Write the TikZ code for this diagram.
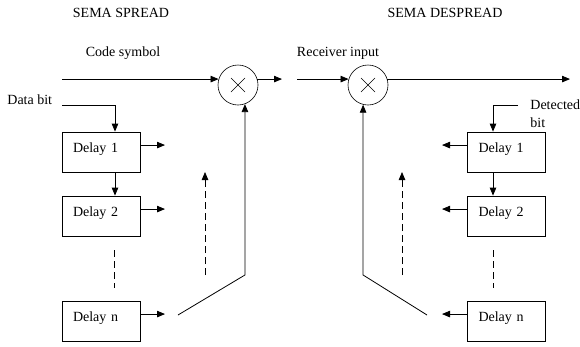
\documentclass[tikz,border=0pt]{standalone}
\usepackage{fontspec}
\setmainfont{Liberation Serif}
\usetikzlibrary{arrows.meta}
\begin{document}
\begin{tikzpicture}[x=1pt,y=-1pt,
  font=\fontsize{14}{16}\selectfont,
  line width=0.8pt,
  arr/.style={-{Triangle[length=8pt,width=6.5pt]}},
  dsh/.style={dash pattern=on 7pt off 4pt},
  txt/.style={inner sep=2pt},
  delaybox/.style={draw, minimum width=78pt, minimum height=40pt, text width=56pt,
    inner xsep=11pt, inner ysep=2pt, align=left, text height=10pt, text depth=10pt},
  mult/.style={draw, circle, minimum size=40pt, inner sep=0pt, line width=0.6pt,
    path picture={\draw[line width=0.5pt] (path picture bounding box.center) +(-7,-7) -- +(7,7)
      (path picture bounding box.center) +(-7,7) -- +(7,-7);}}
]
\useasboundingbox (0,0) rectangle (580,346);

% titles and labels
\node[txt] (t1) at (121,13) {SEMA SPREAD};
\node[txt] (t2) at (445,13) {SEMA DESPREAD};
\node[txt] (cs) at (123,53) {Code symbol};
\node[txt] (ri) at (338,53) {Receiver input};
\node[txt,anchor=west] (db) at (5,100) {Data bit};
\node[txt,anchor=west,align=left,font=\fontsize{14}{18}\selectfont] (det) at (528,114) {Detected\\bit};

% multipliers
\node[mult] (m1) at (238,85) {};
\node[mult] (m2) at (368,85) {};

% delay boxes
\node[delaybox] (l1) at (101,152) {Delay 1};
\node[delaybox] (l2) at (101,216) {Delay 2};
\node[delaybox] (ln) at (101,321) {Delay n};
\node[delaybox] (r1) at (506.5,152) {Delay 1};
\node[delaybox] (r2) at (506.5,216) {Delay 2};
\node[delaybox] (rn) at (506.5,321) {Delay n};

% helper coordinates
\coordinate (a0) at (62,79);
\coordinate (a1) at (282,79);
\coordinate (b0) at (297,79);
\coordinate (b1) at (570,79);
\coordinate (d0) at (62,105);
\coordinate (d1) at (115,105);
\coordinate (h0) at (518,105);
\coordinate (h1) at (493,105);
\coordinate (lo) at (165,0);
\coordinate (ro) at (442,0);
\coordinate (f0) at (178,315);
\coordinate (g0) at (427,315);
\coordinate (fy) at (0,275);
\coordinate (ld0) at (114,250);
\coordinate (ld1) at (114,288);
\coordinate (rd0) at (493,250);
\coordinate (rd1) at (493,288);
\coordinate (lu0) at (205,275);
\coordinate (lu1) at (205,172);
\coordinate (ru0) at (402,275);
\coordinate (ru1) at (402,172);

% main signal lines
\draw[arr] (a0 |- m1.163) -- (m1.163);
\draw[arr] (m1.17) -- (a1 |- m1.17);
\draw[arr] (b0 |- m2.163) -- (m2.163);
\draw[arr] (m2.17) -- (b1 |- m2.17);

% spread register
\draw[arr] (d0) -- (d1) -- (d1 |- l1.north);
\draw[arr] (d1 |- l1.south) -- (d1 |- l2.north);
\draw[dsh] (ld0) -- (ld1);
\draw[arr] (l1.10) -- (l1.10 -| lo);
\draw[arr] (l2.10) -- (l2.10 -| lo);
\draw[arr] (ln.10) -- (ln.10 -| lo);
\draw[arr,dsh] (lu0) -- (lu1);
\draw[arr] (f0) -- (fy -| m1.-70) -- (m1.-70);

% despread register
\draw[arr] (h0) -- (h1) -- (h1 |- r1.north);
\draw[arr] (h1 |- r1.south) -- (h1 |- r2.north);
\draw[dsh] (rd0) -- (rd1);
\draw[arr] (r1.170) -- (r1.170 -| ro);
\draw[arr] (r2.170) -- (r2.170 -| ro);
\draw[arr] (rn.170) -- (rn.170 -| ro);
\draw[arr,dsh] (ru0) -- (ru1);
\draw[arr] (g0) -- (fy -| m2.-104) -- (m2.-104);
\end{tikzpicture}
\end{document}
